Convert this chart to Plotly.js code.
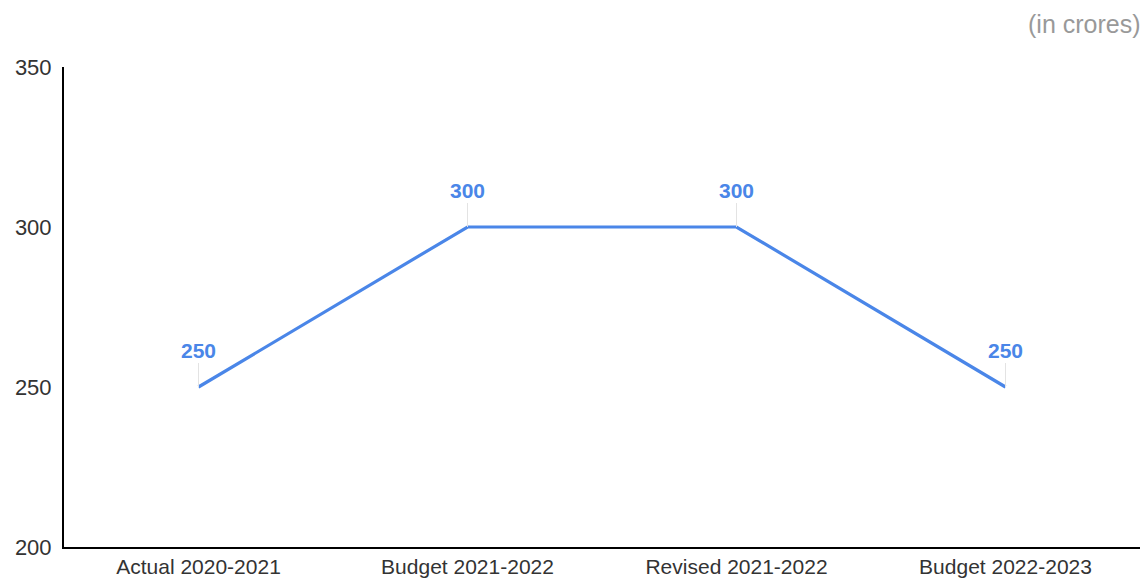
<!DOCTYPE html>
<html>
<head>
<meta charset="utf-8">
<script src="https://cdn.plot.ly/plotly-3.0.1.min.js"></script>
<style>html,body{margin:0;padding:0;background:#fff;}#chart{width:1144px;height:579px;}</style>
</head>
<body>
<div id="chart"></div>
<script>
const categories = ["Actual 2020-2021", "Budget 2021-2022", "Revised 2021-2022", "Budget 2022-2023"];
const values = [250, 300, 300, 250];
const yTicks = [200, 250, 300, 350];

const blue = "#4a86e8";
const trace = {
  x: categories,
  y: values,
  type: "scatter",
  mode: "lines",
  line: {color: blue, width: 3.2},
  hoverinfo: "none"
};

const annotations = categories.map((c, i) => ({
  x: c, y: values[i], xref: "x", yref: "y",
  text: String(values[i]),
  showarrow: true, arrowhead: 0, arrowwidth: 1, arrowcolor: "#e3e3e3",
  ax: 0, ay: -37,
  font: {family: "Liberation Sans, Arial, sans-serif", size: 21, color: blue, weight: "bold"}
}));
annotations.push({
  xref: "paper", yref: "paper", x: 1.003, y: 1.09, xanchor: "right", yanchor: "middle",
  text: "(in crores)", showarrow: false,
  font: {family: "Liberation Sans, Arial, sans-serif", size: 25, color: "#999999"}
});

const layout = {
  width: 1144, height: 579,
  margin: {l: 64, r: 4, t: 67, b: 32},
  paper_bgcolor: "#ffffff", plot_bgcolor: "#ffffff",
  showlegend: false,
  font: {family: "Liberation Sans, Arial, sans-serif", size: 21, color: "#333333"},
  xaxis: {
    type: "category", range: [-0.5, 3.5],
    showline: true, linecolor: "#000000", linewidth: 2,
    showgrid: false, zeroline: false, ticks: "",
    tickfont: {size: 21, color: "#333333"}
  },
  yaxis: {
    range: [200, 350], tickvals: yTicks, ticktext: yTicks.map(String),
    showline: true, linecolor: "#000000", linewidth: 2,
    showgrid: false, zeroline: false, ticks: "",
    ticklabelstandoff: 6,
    tickfont: {size: 22, color: "#333333"}
  },
  annotations: annotations
};

Plotly.newPlot("chart", [trace], layout, {displayModeBar: false, staticPlot: true});
</script>
</body>
</html>
